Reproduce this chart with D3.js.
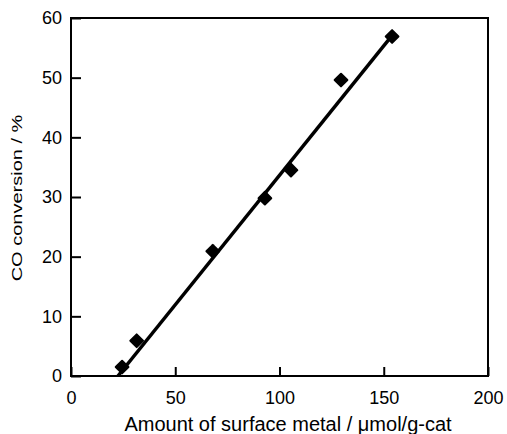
<!DOCTYPE html>
<html>
<head>
<meta charset="utf-8">
<script src="https://cdn.jsdelivr.net/npm/d3@7"></script>
<style>
  body { margin: 0; background: #fff; }
  text { font-family: "Liberation Sans", Arial, sans-serif; fill: #000; }
</style>
</head>
<body>
<div id="chart"></div>
<script>
    // measured points
    var metal = [24.5, 31.5, 68, 93, 105.5, 129.5, 154];
    var conversion = [1.5, 5.9, 20.9, 29.8, 34.5, 49.6, 56.9];

    // fitted line ends
    var fitX = [22.5, 155];
    var fitY = [0, 57.5];

    var xTicks = [0, 50, 100, 150, 200];
    var yTicks = [0, 10, 20, 30, 40, 50, 60];

(function () {
    'use strict';

    var width = 507, height = 434;
    var plotLeft = 71, plotRight = 488, plotTop = 18, plotBottom = 376;

    var svg = d3.select("#chart").append("svg")
        .attr("width", width)
        .attr("height", height);

    var x = d3.scaleLinear().domain([0, 200]).range([plotLeft, plotRight]);
    var y = d3.scaleLinear().domain([0, 60]).range([plotBottom, plotTop]);

    // frame
    svg.append("rect")
        .attr("x", plotLeft).attr("y", plotTop)
        .attr("width", plotRight - plotLeft).attr("height", plotBottom - plotTop)
        .attr("fill", "none")
        .attr("stroke", "#000")
        .attr("stroke-width", 2);

    // axes with inward ticks
    var xAxis = svg.append("g")
        .attr("transform", "translate(0," + plotBottom + ")")
        .call(d3.axisBottom(x).tickValues(xTicks).tickSize(-9));
    xAxis.select(".domain").remove();
    xAxis.selectAll("line").attr("stroke-width", 2);
    xAxis.selectAll("text")
        .attr("font-size", "18px")
        .attr("dy", "0")
        .attr("y", 28)
        .style("font-family", "Liberation Sans, Arial, sans-serif");

    var yAxis = svg.append("g")
        .attr("transform", "translate(" + plotLeft + ",0)")
        .call(d3.axisLeft(y).tickValues(yTicks).tickSize(-10).tickPadding(9));
    yAxis.select(".domain").remove();
    yAxis.selectAll("line").attr("stroke-width", 2);
    yAxis.selectAll("text")
        .attr("font-size", "18px")
        .style("font-family", "Liberation Sans, Arial, sans-serif");

    // fitted line
    var lineData = fitX.map(function (d, i) { return [d, fitY[i]]; });
    svg.append("path")
        .datum(lineData)
        .attr("fill", "none")
        .attr("stroke", "#000")
        .attr("stroke-width", 3.5)
        .attr("d", d3.line()
            .x(function (d) { return x(d[0]); })
            .y(function (d) { return y(d[1]); }));

    // diamond markers
    svg.append("g")
        .selectAll("rect")
        .data(metal)
        .enter().append("rect")
        .attr("x", -5.5).attr("y", -5.5)
        .attr("width", 11).attr("height", 11)
        .attr("rx", 1)
        .attr("fill", "#000")
        .attr("transform", function (d, i) {
            return "translate(" + x(d) + "," + y(conversion[i]) + ") rotate(45)";
        });

    // axis titles
    svg.append("text")
        .attr("x", 288).attr("y", 431)
        .attr("text-anchor", "middle")
        .attr("font-size", "20px")
        .text("Amount of surface metal / \u03bcmol/g-cat");

    svg.append("text")
        .attr("text-anchor", "middle")
        .attr("font-size", "20px")
        .attr("transform", "translate(22,198) rotate(-90) scale(1,0.7)")
        .text("CO conversion / %");
})();
</script>
</body>
</html>
